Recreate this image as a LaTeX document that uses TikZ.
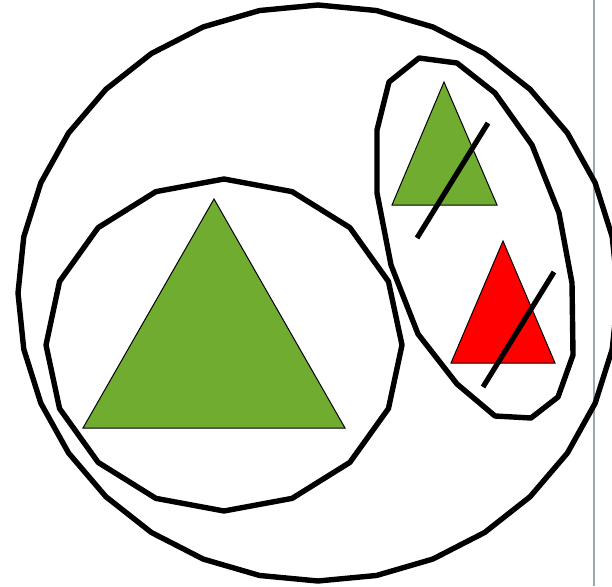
\documentclass[tikz,border=0pt]{standalone}
\definecolor{leafgreen}{HTML}{70AC30}
\definecolor{edgegray}{RGB}{150,170,176}
\tikzset{
  ring/.style={draw=black, line width=5.4pt, line join=round},
  tri/.style={draw=black, line width=1pt, line join=miter},
  strike/.style={draw=black, line width=5.2pt},
}
\begin{document}
\begin{tikzpicture}[x=1pt,y=-1pt]
\useasboundingbox (0,0) rectangle (612,586);
\fill[white] (0,0) rectangle (612,586);
\begin{scope}
\clip (0,0) rectangle (612,586);
% right edge gray line
\draw[edgegray, line width=1.6pt] (594,0) -- (594,586);
% outer polygon (32-gon)
\draw[ring] plot[samples=33, domain=0:360] ({318+300*sin(\x)},{293-288*cos(\x)}) -- cycle;
% inner left polygon (16-gon)
\draw[ring] plot[samples=17, domain=0:360] ({224+178*sin(\x)},{345-166*cos(\x)}) -- cycle;
% right tilted polygon
\draw[ring] (419,58) -- (457,63) -- (495,93) -- (532,145) -- (559,213) -- (572,283)
  -- (573,355) -- (558,397) -- (531,418) -- (495,416) -- (457,384) -- (418,334)
  -- (391,265) -- (377,193) -- (377,130) -- (389,82) -- cycle;
% big green triangle
\draw[tri, fill=leafgreen] (214,199) -- (345,428) -- (83,428) -- cycle;
% small green triangle
\draw[tri, fill=leafgreen] (444,82) -- (497,205) -- (392,205) -- cycle;
% red triangle
\draw[tri, fill=red] (503,241) -- (555,363) -- (451,363) -- cycle;
% strike lines
\draw[strike] (488,123) -- (417,238);
\draw[strike] (554,272) -- (483,387);
\end{scope}
\end{tikzpicture}
\end{document}
